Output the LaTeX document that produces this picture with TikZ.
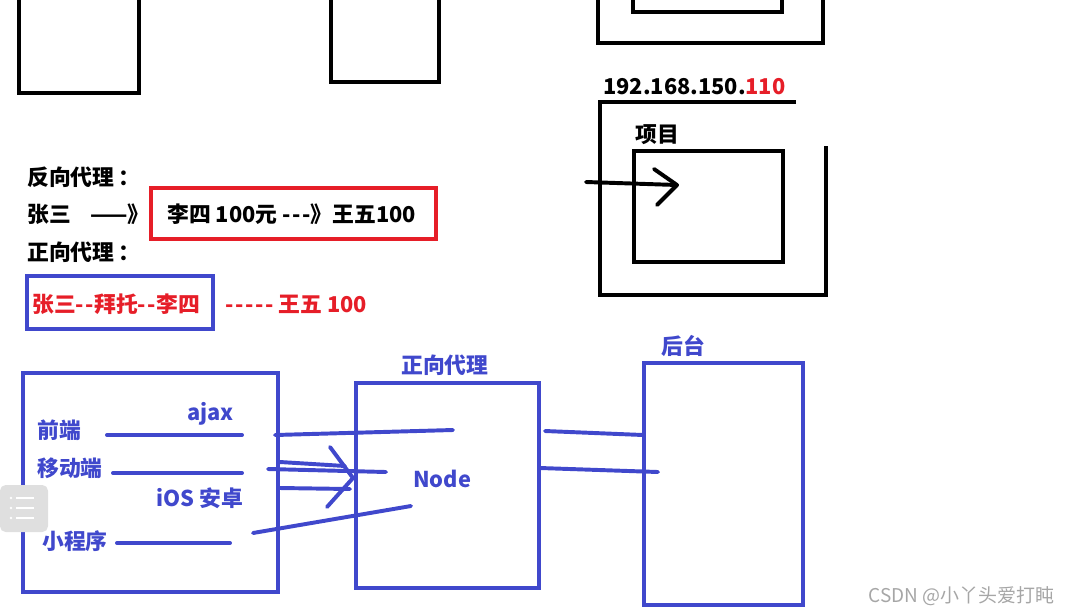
\documentclass[tikz,border=0pt]{standalone}
\usepackage{fontspec}
\setmainfont{Noto Sans CJK SC}[Ligatures=TeXOff]
\definecolor{penblue}{RGB}{64,72,204}
\definecolor{penred}{RGB}{230,30,40}
\newcommand{\hy}{-\kern1.2pt}
\begin{document}
\begin{tikzpicture}[x=0.025cm,y=-0.025cm,
    pen/.style={line width=2.8pt},
    bluepen/.style={line width=2.8pt,penblue,line cap=round},
    lbl/.style={font=\bfseries\fontsize{15.5}{18}\selectfont,inner sep=0pt,anchor=west}]
    \useasboundingbox (0,0) rectangle (1070,614);
    % top sketches (cut off)
    \draw[pen] (19,0) -- (19,93) -- (139,93) -- (139,0);
    \draw[pen] (331,0) -- (331,82) -- (439,82) -- (439,0);
    \draw[pen] (598,0) -- (598,43) -- (823,43) -- (823,0);
    \draw[pen] (633,0) -- (633,12) -- (782,12) -- (782,0);
    % server with project
    \node[lbl] (ip) at (603,87) {192.168.150.\textcolor{penred}{110}};
    \draw[pen] (796,102) -- (600,102) -- (600,295) -- (826,295) -- (826,146);
    \draw[pen] (634,151) rectangle (783,262);
    \node[lbl] (proj) at (635,135) {项目};
    \coordinate (in0) at (586,182);
    \coordinate (in1) at (677,185);
    \draw[pen,line cap=round] (in0) -- (in1);
    \draw[pen,line cap=round,line join=round] (654,169) -- (in1) -- (657,205);
    % reverse / forward proxy text
    \node[lbl] (rev) at (27,177) {反向代理\,：};
    \node[lbl] (zs) at (27,214) {张三};
    \node[lbl] (arr) at (90,214) {——》};
    \draw[pen,penred] (151,188) rectangle (436,239);
    \node[lbl] (ls) at (167,214) {李四 100元 \hy\hy-》王五100};
    \node[lbl] (fwd) at (27,252) {正向代理\,：};
    \draw[pen,penblue] (27,276) rectangle (213,329);
    \node[lbl,penred] (bt) at (32,304) {张三\hy-拜托\hy-李四};
    \node[lbl,penred] (ww) at (225,304) {\hy\hy\hy\hy- 王五 100};
    % clients -> proxy -> backend
    \draw[pen,penblue] (23,373) rectangle (278,592);
    \draw[pen,penblue] (356,383) rectangle (539,588);
    \draw[pen,penblue] (644,363) rectangle (803,605);
    \node[lbl,penblue,anchor=south west] (ptitle) at (401,376) {正向代理};
    \node[lbl,penblue,anchor=south west] (btitle) at (661,357) {后台};
    \node[lbl,penblue] (qd) at (37,430) {前端};
    \node[lbl,penblue] (ajax) at (187,414) {ajax};
    \node[lbl,penblue] (yd) at (37,468) {移动端};
    \node[lbl,penblue] (ios) at (156,498) {iOS 安卓};
    \node[lbl,penblue] (xcx) at (42,541) {小程序};
    \node[lbl,penblue] (node) at (413,479) {Node};
    \draw[bluepen] (107,435) -- (242,435);
    \draw[bluepen] (113,473) -- (242,473);
    \draw[bluepen] (117,543) -- (230,543);
    \coordinate (c1) at (275,435);
    \coordinate (p1) at (453,430);
    \coordinate (c2) at (268,469);
    \coordinate (p2) at (386,472);
    \coordinate (c3) at (253,533);
    \coordinate (p3) at (411,506);
    \draw[bluepen] (c1) -- (p1);
    \draw[bluepen] (c2) -- (p2);
    \draw[bluepen] (280,462) -- (345,466);
    \draw[bluepen] (280,488) -- (350,489);
    \draw[bluepen,line join=round] (330,447) -- (353,478) -- (327,507);
    \draw[bluepen] (c3) -- (p3);
    \coordinate (p4) at (545,431);
    \coordinate (b4) at (643,435);
    \coordinate (p5) at (540,468);
    \coordinate (b5) at (658,472);
    \draw[bluepen] (p4) -- (b4);
    \draw[bluepen] (p5) -- (b5);
    % page widgets
    \fill[gray!25,rounded corners=4pt] (0,485) rectangle (48,532);
    \foreach \yy in {498,508,518} {
        \fill[white] (11,\yy) circle (1.3);
        \draw[white,line width=1.2pt] (16,\yy) -- (34,\yy);
    }
    \node[inner sep=0pt,anchor=east,text=gray!70,font=\fontsize{13.5}{15}\selectfont] (wm) at (1055,596) {CSDN @小丫头爱打盹};
\end{tikzpicture}
\end{document}
